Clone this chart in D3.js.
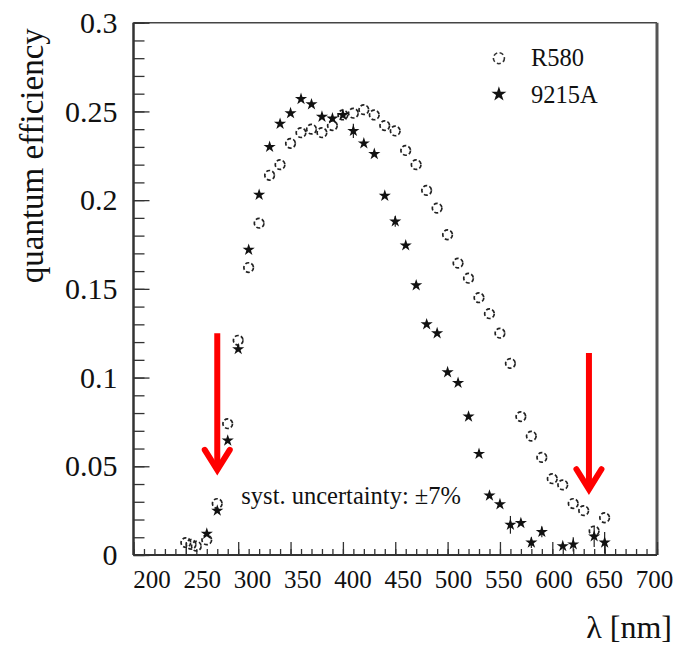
<!DOCTYPE html>
<html>
<head>
<meta charset="utf-8">
<script src="https://cdn.jsdelivr.net/npm/d3@7"></script>
<style>
  html, body { margin: 0; padding: 0; background: #fff; }
  svg { display: block; font-family: "Liberation Serif", "DejaVu Serif", serif; }
</style>
</head>
<body>
<svg id="chart" width="684" height="647"></svg>
<script>
// ---- data ----
const r580Wavelength = [250,255,260,270,280,290,300,310,320,330,340,350,360,370,380,390,400,410,420,430,440,450,460,470,480,490,500,510,520,530,540,550,560,570,580,590,600,610,620,630,640,650];
const r580QE = [0.007,0.006,0.005,0.0085,0.029,0.074,0.121,0.162,0.187,0.214,0.220,0.232,0.238,0.240,0.238,0.242,0.248,0.249,0.251,0.248,0.242,0.239,0.228,0.220,0.2055,0.1955,0.1805,0.1645,0.156,0.145,0.136,0.125,0.108,0.078,0.067,0.055,0.043,0.0395,0.029,0.025,0.0135,0.021];
const emi9215Wavelength = [270,280,290,300,310,320,330,340,350,360,370,380,390,400,410,420,430,440,450,460,470,480,490,500,510,520,530,540,550,560,570,580,590,610,620,640,650];
const emi9215QE = [0.012,0.025,0.0645,0.116,0.172,0.203,0.230,0.243,0.249,0.257,0.254,0.247,0.246,0.248,0.239,0.232,0.226,0.2025,0.188,0.1745,0.152,0.130,0.125,0.103,0.097,0.078,0.057,0.0335,0.0286,0.017,0.018,0.007,0.013,0.005,0.006,0.0105,0.007];
const emi9215Err = [0,0,0,0,0,0,0,0,0,0,0,0,0,0,0.004,0,0,0,0.003,0,0,0,0,0,0,0,0,0,0,0.005,0,0.003,0.003,0,0.004,0.006,0.006];
const seriesNames = ["R580", "9215A"];
const xTickValues = [200,250,300,350,400,450,500,550,600,650,700];
const yTickValues = [0,0.05,0.1,0.15,0.2,0.25,0.3];
const xTitle = "\u03bb [nm]";
const yTitle = "quantum efficiency";
const noteText = "syst. uncertainty: \u00b17%";
const noteAt = [303, 0.029];
// arrows: [wavelength, qe top, qe tip]
const arrows = [[280, 0.125, 0.0457], [635, 0.1138, 0.0348]];
const legendAt = [549, 0.28];

// ---- layout ----
const W = 684, H = 647;
const m = {left: 133.5, right: 27, top: 22.7, bottom: 92};
const svg = d3.select("#chart");
const x = d3.scaleLinear().domain([200, 700]).range([m.left, W - m.right]);
const y = d3.scaleLinear().domain([0, 0.3]).range([H - m.bottom, m.top]);
// label positions in the reference are slightly inset from the tick positions
const xLab = d3.scaleLinear().domain([200, 700]).range([x(200) + 18, x(700) - 3]);

const axisColor = "#333";

// frame top/right
svg.append("line").attr("x1", x(200)).attr("x2", x(700)).attr("y1", y(0.3)).attr("y2", y(0.3))
  .attr("stroke", "#444").attr("stroke-width", 1.6);
svg.append("line").attr("x1", x(700)).attr("x2", x(700)).attr("y1", y(0.3)).attr("y2", y(0))
  .attr("stroke", "#555").attr("stroke-width", 3);

// x ticks (minor every 10, major every 50)
const gx = svg.append("g").attr("transform", `translate(0,${y(0)})`);
gx.call(d3.axisTop(x).tickValues(d3.range(200, 701, 10)).tickSize(6).tickFormat(""));
gx.append("g").call(d3.axisTop(x).tickValues(d3.range(200, 701, 50)).tickSize(13).tickFormat(""));
gx.selectAll("path").attr("stroke", axisColor).attr("stroke-width", 2);
gx.selectAll("line").attr("stroke", axisColor).attr("stroke-width", 1.3);
gx.selectAll(".domain").attr("d", `M${x(200)},0H${x(700)}`);

// x labels
const gxl = svg.append("g").attr("transform", `translate(0,${y(0)})`);
gxl.call(d3.axisBottom(xLab).tickValues(xTickValues).tickSize(0).tickPadding(15).tickFormat(d3.format("d")));
gxl.select(".domain").remove();
gxl.selectAll("text").attr("font-size", 25).attr("fill", "#111").attr("font-family", "Liberation Serif");

// y ticks
const gy = svg.append("g").attr("transform", `translate(${x(200)},0)`);
gy.call(d3.axisRight(y).tickValues(d3.range(0, 31).map(d => d / 100)).tickSize(11).tickFormat(""));
gy.append("g").call(d3.axisRight(y).tickValues(yTickValues).tickSize(16).tickFormat(""));
gy.selectAll("path").attr("stroke", axisColor).attr("stroke-width", 2);
gy.selectAll("line").attr("stroke", axisColor).attr("stroke-width", 1.3);
gy.selectAll(".domain").attr("d", `M0,${y(0)}V${y(0.3)}`);

// y labels
const gyl = svg.append("g").attr("transform", `translate(${x(200)},0)`);
gyl.call(d3.axisLeft(y).tickValues(yTickValues).tickSize(0).tickPadding(16).tickFormat(d => d === 0 ? "0" : String(+d.toFixed(2))));
gyl.select(".domain").remove();
gyl.selectAll("text").attr("font-size", 30).attr("fill", "#111").attr("font-family", "Liberation Serif");

// titles
svg.append("text").attr("x", x(700) + 15).attr("y", H - 9).attr("text-anchor", "end")
  .attr("font-size", 32).attr("fill", "#111").text(xTitle);
svg.append("text").attr("transform", `translate(43,${m.top + 133}) rotate(-90)`).attr("text-anchor", "middle")
  .attr("font-size", 33).attr("fill", "#111").text(yTitle);

// data: error bars for 9215A
const emi = emi9215Wavelength.map((w, i) => ({w, q: emi9215QE[i], e: emi9215Err[i]}));
const r580 = r580Wavelength.map((w, i) => ({w, q: r580QE[i]}));

svg.append("g").selectAll("line").data(emi.filter(d => d.e > 0)).join("line")
  .attr("x1", d => x(d.w)).attr("x2", d => x(d.w))
  .attr("y1", d => y(d.q - d.e)).attr("y2", d => y(d.q + d.e))
  .attr("stroke", "#222").attr("stroke-width", 1.2);

// R580 open circles
svg.append("g").selectAll("circle").data(r580).join("circle")
  .attr("cx", d => x(d.w)).attr("cy", d => y(d.q)).attr("r", 4.8)
  .attr("fill", "none").attr("stroke", "#222").attr("stroke-width", 1.7)
  .attr("stroke-dasharray", "4,2.2");

// 9215A stars
const star = d3.symbol().type(d3.symbolStar).size(46);
svg.append("g").selectAll("path").data(emi).join("path")
  .attr("transform", d => `translate(${x(d.w)},${y(d.q)})`)
  .attr("d", star).attr("fill", "#111");

// legend
svg.append("circle").attr("cx", x(legendAt[0])).attr("cy", y(legendAt[1])).attr("r", 5.5)
  .attr("fill", "none").attr("stroke", "#333").attr("stroke-width", 1.6).attr("stroke-dasharray", "4,2.5");
svg.append("text").attr("x", x(legendAt[0]) + 32).attr("y", y(legendAt[1]) + 8)
  .attr("font-size", 24.5).attr("fill", "#111").text(seriesNames[0]);
svg.append("path").attr("transform", `translate(${x(legendAt[0])},${y(legendAt[1]) + 36})`)
  .attr("d", d3.symbol().type(d3.symbolStar).size(70)).attr("fill", "#111");
svg.append("text").attr("x", x(legendAt[0]) + 32).attr("y", y(legendAt[1]) + 45)
  .attr("font-size", 24.5).attr("fill", "#111").text(seriesNames[1]);

// note
svg.append("text").attr("x", x(noteAt[0])).attr("y", y(noteAt[1]))
  .attr("font-size", 24.5).attr("fill", "#111").text(noteText);

// red arrows
const ag = svg.append("g").attr("stroke", "#f00").attr("stroke-width", 6).attr("fill", "none")
  .attr("stroke-linecap", "butt").attr("stroke-linejoin", "miter");
arrows.forEach(a => {
  const ax = x(a[0]), top = y(a[1]), tip = y(a[2]);
  ag.append("line").attr("x1", ax).attr("x2", ax).attr("y1", top).attr("y2", tip - 4);
  ag.append("path").attr("d", `M${ax - 12.5},${tip - 24}L${ax},${tip - 4}L${ax + 12.5},${tip - 24}`)
    .attr("stroke-linecap", "round");
});
</script>
</body>
</html>
